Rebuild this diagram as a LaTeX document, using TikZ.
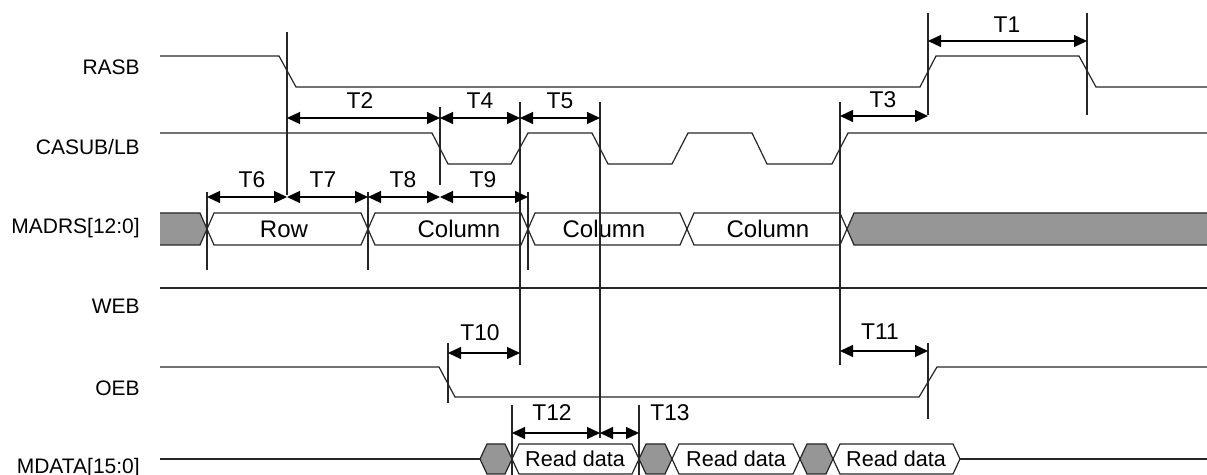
\documentclass[tikz,border=0pt]{standalone}
\usepackage{fontspec}
\setmainfont{Liberation Sans}
\usetikzlibrary{arrows.meta}

\begin{document}
\begin{tikzpicture}[x=0.5pt,y=-0.5pt,line width=0.6pt,
  sig/.style={draw=black!85},
  mark line/.style={draw=black!85},
  dim/.style={<->,>={Triangle[length=6.5pt,width=6pt]},draw=black},
  bus/.style={draw=black!85,fill=white},
  idle/.style={draw=black!85,fill=black!41},
  sig name/.style={anchor=east,font=\fontsize{10.5}{12}\selectfont},
  t label/.style={font=\fontsize{11.4}{13}\selectfont},
  data label/.style={font=\fontsize{10.8}{13}\selectfont},
  bus label/.style={font=\fontsize{12}{14}\selectfont}]

\useasboundingbox (0,0) rectangle (1207,475);

% signal names
\node[sig name] (rasb)  at (147,67)  {RASB};
\node[sig name] (casub) at (147,147) {CASUB/LB};
\node[sig name] (madrs) at (147,228) {MADRS[12:0]};
\node[sig name] (web)   at (147,306) {WEB};
\node[sig name] (oeb)   at (147,388) {OEB};
\node[sig name] (mdata) at (147,468) {MDATA[15:0]};

% event positions
\coordinate (ras1) at (287,0);
\coordinate (ras2) at (928,0);
\coordinate (ras3) at (1087,0);
\coordinate (cas1) at (440,0);
\coordinate (cas2) at (520,0);
\coordinate (cas3) at (600,0);
\coordinate (cas4) at (840,0);
\coordinate (adr1) at (207,0);
\coordinate (adr2) at (368,0);
\coordinate (adr3) at (528,0);
\coordinate (oe1)  at (448,0);
\coordinate (dat1) at (512,0);
\coordinate (dat2) at (639,0);

% waveforms
\draw[sig] (160,56) -- (279,56) -- (296,87) -- (920,87) -- (936,56)
  -- (1079,56) -- (1096,87) -- (1207,87);
\draw[sig] (160,133) -- (432,133) -- (448,164) -- (511,164) -- (528,133)
  -- (592,133) -- (608,164) -- (672,164) -- (688,133) -- (752,133)
  -- (767,164) -- (832,164) -- (848,133) -- (1207,133);
\draw[sig] (160,288) -- (1207,288);
\draw[sig] (160,367) -- (439,367) -- (455,397) -- (919,397) -- (937,367)
  -- (1207,367);

% address bus
\filldraw[idle] (160,213) -- (200,213) -- (207,229) -- (200,245) -- (160,245);
\filldraw[bus] (207,229) -- (214,213) -- (361,213) -- (368,229) -- (361,245) -- (214,245) -- cycle;
\filldraw[bus] (368,229) -- (375,213) -- (521,213) -- (528,229) -- (521,245) -- (375,245) -- cycle;
\filldraw[bus] (528,229) -- (535,213) -- (680,213) -- (687,229) -- (680,245) -- (535,245) -- cycle;
\filldraw[bus] (687,229) -- (694,213) -- (840,213) -- (847,229) -- (840,245) -- (694,245) -- cycle;
\filldraw[idle] (1207,213) -- (854,213) -- (847,229) -- (854,245) -- (1207,245);
\node[bus label] (row)  at (284,229) {Row};
\node[bus label] (col1) at (459,229) {Column};
\node[bus label] (col2) at (604,229) {Column};
\node[bus label] (col3) at (768,229) {Column};

% data bus
\draw[sig] (160,459) -- (480,459);
\filldraw[idle] (480,459) -- (487,444) -- (505,444) -- (512,459) -- (505,474) -- (487,474) -- cycle;
\filldraw[bus] (512,459) -- (519,444) -- (632,444) -- (639,459) -- (632,474) -- (519,474) -- cycle;
\filldraw[idle] (639,459) -- (646,444) -- (665,444) -- (672,459) -- (665,474) -- (646,474) -- cycle;
\filldraw[bus] (672,459) -- (679,444) -- (793,444) -- (800,459) -- (793,474) -- (679,474) -- cycle;
\filldraw[idle] (800,459) -- (807,444) -- (826,444) -- (833,459) -- (826,474) -- (807,474) -- cycle;
\filldraw[bus] (833,459) -- (840,444) -- (953,444) -- (960,459) -- (953,474) -- (840,474) -- cycle;
\draw[sig] (960,459) -- (1207,459);
\node[data label] (rd1) at (575,459) {Read data};
\node[data label] (rd2) at (736,459) {Read data};
\node[data label] (rd3) at (896,459) {Read data};

% marker lines
\draw[mark line] (ras1 |- 0,32) -- (ras1 |- 0,195);
\draw[mark line] (ras2 |- 0,13) -- (ras2 |- 0,115);
\draw[mark line] (ras3 |- 0,13) -- (ras3 |- 0,115);
\draw[mark line] (cas1 |- 0,107) -- (cas1 |- 0,185);
\draw[mark line] (cas2 |- 0,102) -- (cas2 |- 0,365);
\draw[mark line] (cas3 |- 0,102) -- (cas3 |- 0,438);
\draw[mark line] (cas4 |- 0,102) -- (cas4 |- 0,365);
\draw[mark line] (adr1 |- 0,192) -- (adr1 |- 0,270);
\draw[mark line] (adr2 |- 0,192) -- (adr2 |- 0,270);
\draw[mark line] (adr3 |- 0,192) -- (adr3 |- 0,270);
\draw[mark line] (oe1 |- 0,343) -- (oe1 |- 0,403);
\draw[mark line] (ras2 |- 0,343) -- (ras2 |- 0,419);
\draw[mark line] (dat1 |- 0,405) -- (dat1 |- 0,475);
\draw[mark line] (dat2 |- 0,405) -- (dat2 |- 0,475);

% timing arrows
\draw[dim] (ras2 |- 0,41) -- (ras3 |- 0,41);
\draw[dim] (ras1 |- 0,118) -- (cas1 |- 0,118);
\draw[dim] (cas1 |- 0,118) -- (cas2 |- 0,118);
\draw[dim] (cas2 |- 0,118) -- (cas3 |- 0,118);
\draw[dim] (cas4 |- 0,116) -- (ras2 |- 0,116);
\draw[dim] (adr1 |- 0,197) -- (ras1 |- 0,197);
\draw[dim] (ras1 |- 0,197) -- (adr2 |- 0,197);
\draw[dim] (adr2 |- 0,197) -- (cas1 |- 0,197);
\draw[dim] (cas1 |- 0,197) -- (adr3 |- 0,197);
\draw[dim] (oe1 |- 0,353) -- (cas2 |- 0,353);
\draw[dim] (cas4 |- 0,351) -- (ras2 |- 0,351);
\draw[dim] (dat1 |- 0,433) -- (cas3 |- 0,433);
\draw[dim] (cas3 |- 0,433) -- (dat2 |- 0,433);

\node[t label] (t1)  at (1007,25) {T1};
\node[t label] (t2)  at (360,101) {T2};
\node[t label] (t3)  at (883,100) {T3};
\node[t label] (t4)  at (480,101) {T4};
\node[t label] (t5)  at (560,101) {T5};
\node[t label] (t6)  at (252,180) {T6};
\node[t label] (t7)  at (323,180) {T7};
\node[t label] (t8)  at (403,180) {T8};
\node[t label] (t9)  at (483,180) {T9};
\node[t label] (t10) at (480,333) {T10};
\node[t label] (t11) at (880,332) {T11};
\node[t label] (t12) at (552,413) {T12};
\node[t label] (t13) at (670,413) {T13};

\end{tikzpicture}
\end{document}
